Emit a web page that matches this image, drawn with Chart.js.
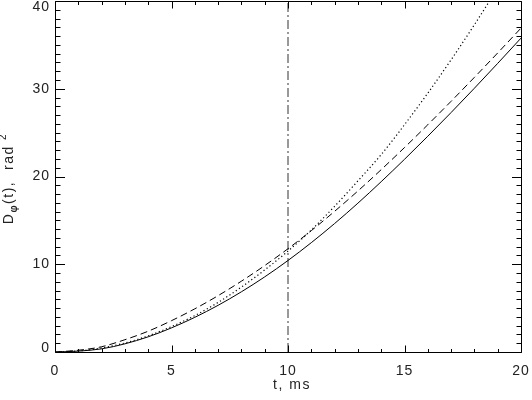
<!DOCTYPE html>
<html>
<head>
<meta charset="utf-8">
<script src="https://cdn.jsdelivr.net/npm/chart.js@4/dist/chart.umd.min.js"></script>
<style>
html,body{margin:0;padding:0;background:#fff;}
#wrap{width:532px;height:400px;position:relative;}
</style>
</head>
<body>
<div id="wrap"><canvas id="c" width="532" height="400"></canvas></div>
<script>
// time lags, ms
const tValues = [0,1,2,3,4,5,6,7,8,9,10,11,12,13,14,15,16,17,18,19,20];
// structure function values, rad^2
const solidD  = [0,0.1,0.36,0.93,1.73,2.75,3.95,5.32,6.86,8.56,10.43,12.46,14.64,16.96,19.41,21.96,24.59,27.29,30.06,32.89,35.77];
const dashedD = [0,0.2,0.6,1.4,2.37,3.57,4.92,6.42,8.07,9.85,11.77,13.83,16.03,18.35,20.78,23.3,25.9,28.57,31.3,34.08,36.91];
const dottedD = [0,0.12,0.46,1.03,1.84,2.9,4.15,5.65,7.4,9.35,11.5,13.9,16.6,19.5,22.5,25.9,29.5,33.3,37.3,41.5,46.0];
const markerT = 10;
const xTicks = [0,5,10,15,20];
const yTicks = [0,10,20,30,40];
const xMinorStep = 1;
const yMinorStep = 1;

const FONT = '"Liberation Sans", Arial, sans-serif';
const TXT = '#222';

function pts(ys){ return tValues.map((t,i)=>({x:t,y:ys[i]})); }

const framePlugin = {
  id:'frame',
  beforeDraw(chart){ chart.ctx.letterSpacing='1px'; },
  afterDraw(chart){
    const {ctx, chartArea:a, scales:{x,y}} = chart;
    const L=a.left+0.5, R=a.right+0.5, T=a.top+0.5, B=a.bottom+0.5;
    ctx.save();
    ctx.strokeStyle='#000'; ctx.lineWidth=1;
    ctx.beginPath(); ctx.rect(L,T,R-L,B-T); ctx.stroke();
    ctx.beginPath();
    for(let v=x.min; v<=x.max+1e-9; v+=xMinorStep){
      const px=Math.round(x.getPixelForValue(v))+0.5;
      const len = xTicks.includes(v)?7:3.5;
      ctx.moveTo(px,B); ctx.lineTo(px,B-len);
      ctx.moveTo(px,T); ctx.lineTo(px,T+len);
    }
    for(let v=y.min; v<=y.max+1e-9; v+=yMinorStep){
      const py=Math.round(y.getPixelForValue(v))+0.5;
      const len = yTicks.includes(v)?9.5:5;
      ctx.moveTo(L,py); ctx.lineTo(L+len,py);
      ctx.moveTo(R,py); ctx.lineTo(R-len,py);
    }
    ctx.stroke();
    ctx.letterSpacing='1px';
    ctx.fillStyle=TXT; ctx.font='14px '+FONT;
    ctx.textAlign='right'; ctx.textBaseline='middle';
    yTicks.forEach(v=>{
      let py=y.getPixelForValue(v);
      py=Math.min(Math.max(py,a.top+6),a.bottom-4);
      ctx.fillText(String(v), a.left-5, py);
    });
    ctx.letterSpacing='1.5px';
    ctx.textAlign='center'; ctx.textBaseline='alphabetic';
    ctx.fillText('t, ms', (a.left+a.right)/2+4, 389);
    const parts=[
      {s:'D',f:'14px '+FONT,dy:0},
      {s:'\u03c6',f:'bold 10px '+FONT,dy:4},
      {s:'(t),  rad',f:'14px '+FONT,dy:0},
      {s:' ',f:'14px '+FONT,dy:0},
      {s:'2',f:'10px '+FONT,dy:-7}
    ];
    let w=0;
    parts.forEach(p=>{ctx.font=p.f; p.w=ctx.measureText(p.s).width; w+=p.w;});
    ctx.translate(13,(a.top+a.bottom)/2+2);
    ctx.rotate(-Math.PI/2);
    ctx.textAlign='left';
    let cx=-w/2;
    parts.forEach(p=>{ctx.font=p.f; ctx.fillText(p.s,cx,p.dy); cx+=p.w;});
    ctx.restore();
    ctx.letterSpacing='0px';
  }
};

new Chart(document.getElementById('c'),{
  type:'line',
  data:{
    datasets:[
      {data:pts(solidD),borderColor:'#000',borderWidth:1,pointRadius:0,fill:false,cubicInterpolationMode:'monotone'},
      {data:pts(dashedD),borderColor:'#000',borderWidth:1,borderDash:[7,4],pointRadius:0,fill:false,cubicInterpolationMode:'monotone'},
      {data:pts(dottedD),borderColor:'#000',borderWidth:1.2,borderDash:[1.2,2.6],pointRadius:0,fill:false,cubicInterpolationMode:'monotone'},
      {data:[{x:markerT,y:yTicks[0]},{x:markerT,y:yTicks[yTicks.length-1]}],borderColor:'#333',borderWidth:1,borderDash:[9,3,2,3],pointRadius:0,fill:false}
    ]
  },
  options:{
    responsive:false,
    animation:false,
    events:[],
    layout:{padding:{top:1,right:11,left:0,bottom:0}},
    plugins:{legend:{display:false},tooltip:{enabled:false},title:{display:false}},
    scales:{
      x:{
        type:'linear',min:xTicks[0],max:xTicks[xTicks.length-1],
        grid:{display:false,drawTicks:false},
        border:{display:false},
        ticks:{stepSize:5,padding:11,color:TXT,font:{family:FONT,size:14},maxRotation:0,
          callback:(v)=>xTicks.includes(v)?String(v):''},
        afterFit(s){s.height=48;s.paddingLeft=0;s.paddingRight=0;}
      },
      y:{
        type:'linear',min:yTicks[0],max:yTicks[yTicks.length-1],
        grid:{display:false,drawTicks:false},
        border:{display:false},
        ticks:{display:false,stepSize:10},
        afterFit(s){s.width=55;s.paddingTop=0;s.paddingBottom=0;}
      }
    }
  },
  plugins:[framePlugin]
});
</script>
</body>
</html>
